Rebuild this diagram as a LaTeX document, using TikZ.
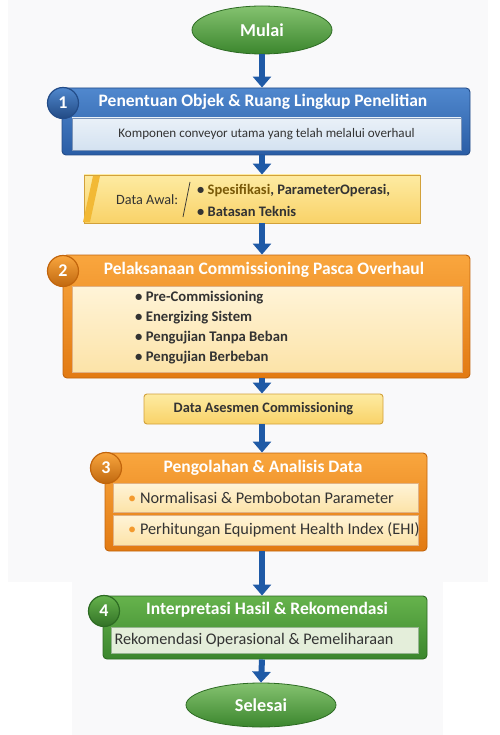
\documentclass[tikz,border=0pt]{standalone}
\usepackage{fontspec}
\setmainfont{Carlito}
\usetikzlibrary{positioning,shapes.geometric,arrows.meta}

\definecolor{bgtint}{HTML}{F9F9FA}
\definecolor{flowblue}{HTML}{1F5AA6}
\definecolor{bluetop}{HTML}{5088CE}
\definecolor{bluebot}{HTML}{2A5DA5}
\definecolor{blueline}{HTML}{234C88}
\definecolor{bluein}{HTML}{D4E2F1}
\definecolor{orgtop}{HTML}{F9A63E}
\definecolor{orgbot}{HTML}{E27A12}
\definecolor{orgline}{HTML}{C2650C}
\definecolor{creamtop}{HTML}{FFF4D8}
\definecolor{creambot}{HTML}{FCE3A8}
\definecolor{yeltop}{HTML}{FDEBA2}
\definecolor{yelbot}{HTML}{F9D268}
\definecolor{yelline}{HTML}{D2A13A}
\definecolor{yelside}{HTML}{F2B935}
\definecolor{grntop}{HTML}{66B34C}
\definecolor{grnbot}{HTML}{3B862D}
\definecolor{grnline}{HTML}{2D6B23}
\definecolor{grnin}{HTML}{E4EEDA}
\definecolor{txtgray}{HTML}{333333}
\definecolor{specclr}{HTML}{7A5A08}
\definecolor{dotorange}{HTML}{F39A2E}

\begin{document}
\begin{tikzpicture}[x=1pt,y=-1pt,
    flow/.style={line width=6pt,draw=flowblue,-{Triangle[width=18pt,length=11pt]}},
    terminal/.style={ellipse,draw=grnline,line width=0.8pt,top color=grntop!80!white,bottom color=grnbot,
        inner sep=0pt,font=\fontsize{18.2}{20}\selectfont\bfseries,text=white},
    stage/.style={rectangle,rounded corners=4pt,line width=0.9pt,inner sep=0pt},
    inbox/.style={rectangle,inner sep=0pt,line width=0.5pt},
    badge/.style={circle,minimum size=31pt,inner sep=0pt,line width=1.2pt,
        font=\fontsize{18}{20}\selectfont\bfseries,text=white},
    title/.style={font=\fontsize{17.5}{20}\selectfont\bfseries,text=white},
    itemtxt/.style={font=\fontsize{14.7}{20}\selectfont\bfseries,text=txtgray,align=left,inner sep=0pt}]

    %% background
    \fill[white] (0,0) rectangle (499,735);
    \fill[bgtint] (8,0) rectangle (488,582);
    \fill[bgtint] (72,582) rectangle (443,735);
    \useasboundingbox (0,0) rectangle (499,735);

    %% start
    \node[terminal,minimum width=140pt,minimum height=48pt] (mulai) at (262,30) {Mulai};

    %% stage 1
    \node[stage,draw=blueline,top color=bluetop,bottom color=bluebot,minimum width=408pt,minimum height=67pt] (box1) at (266,121.5) {};
    \node[title] (title1) at (263,102) {Penentuan Objek \& Ruang Lingkup Penelitian};
    \node[inbox,draw=blueline!60,top color=bluein!50!white,bottom color=bluein,minimum width=389pt,minimum height=32pt,
        font=\fontsize{13.1}{15}\selectfont,text=txtgray] (in1) at (266.5,134) {Komponen conveyor utama yang telah melalui overhaul};
    \node[badge,draw=blueline,top color=bluetop,bottom color=bluebot!80!black] (badge1) at (63,103) {1};

    %% initial data
    \node[trapezium,trapezium left angle=78,trapezium right angle=102,trapezium stretches body,
        draw=yelline,line width=0.9pt,top color=yeltop,bottom color=yelbot,
        minimum width=336pt,minimum height=48pt,inner sep=0pt] (awal) at (252,199) {};
    \fill[yelside] (83,222) -- (93,176) -- (100,176) -- (90,222) -- cycle;
    \node[font=\fontsize{14.2}{16}\selectfont,text=txtgray,anchor=west,inner sep=0pt] (awallbl) at (116,200) {Data Awal:};
    \coordinate (slashtop) at (190,182);
    \coordinate (slashbot) at (183,217);
    \draw[txtgray,line width=0.7pt] (slashtop) -- (slashbot);
    \node[itemtxt,font=\fontsize{14.5}{22}\selectfont\bfseries,anchor=west] (awalitems) at (197,200)
        {• \textcolor{specclr}{Spesifikasi}, ParameterOperasi,\\ • Batasan Teknis};

    %% stage 2
    \node[stage,draw=orgline,top color=orgtop,bottom color=orgbot,minimum width=407pt,minimum height=123pt] (box2) at (266.5,316.5) {};
    \node[title] (title2) at (264,270) {Pelaksanaan Commissioning Pasca Overhaul};
    \node[inbox,draw=orgline!50,top color=creamtop,bottom color=creambot,minimum width=390pt,minimum height=86pt] (in2) at (267,329) {};
    \node[badge,draw=orgline,top color=orgtop,bottom color=orgbot!85!black] (badge2) at (63,271) {2};
    \node[itemtxt,anchor=west] (items2) at (135,328)
        {• Pre-Commissioning\\ • Energizing Sistem\\ • Pengujian Tanpa Beban\\ • Pengujian Berbeban};

    %% assessment data
    \node[rectangle,rounded corners=3pt,draw=yelline,line width=0.9pt,top color=yeltop,bottom color=yelbot,
        minimum width=239pt,minimum height=30pt,inner sep=0pt,
        font=\fontsize{14.4}{16}\selectfont\bfseries,text=txtgray] (asesmen) at (263.5,409) {Data Asesmen Commissioning};

    %% stage 3
    \node[stage,draw=orgline,top color=orgtop,bottom color=orgbot,minimum width=322pt,minimum height=98pt] (box3) at (266,502) {};
    \node[title] (title3) at (263,468) {Pengolahan \& Analisis Data};
    \node[inbox,draw=orgline!50,top color=creamtop,bottom color=creambot,minimum width=305pt,minimum height=29pt] (in3a) at (265.5,497.5) {};
    \node[inbox,draw=orgline!50,top color=creamtop,bottom color=creambot,minimum width=305pt,minimum height=30pt] (in3b) at (265.5,530) {};
    \node[badge,draw=orgline,top color=orgtop,bottom color=orgbot!85!black] (badge3) at (106,468) {3};
    \node[itemtxt,font=\fontsize{16.3}{18}\selectfont,anchor=west] (item3a) at (128,498)
        {\textcolor{dotorange}{•} Normalisasi \& Pembobotan Parameter};
    \node[itemtxt,font=\fontsize{16.3}{18}\selectfont,anchor=west] (item3b) at (128,530)
        {\textcolor{dotorange}{•} Perhitungan Equipment Health Index (EHI)};

    %% stage 4
    \node[stage,draw=grnline,top color=grntop,bottom color=grnbot,minimum width=324pt,minimum height=63pt] (box4) at (265,627.5) {};
    \node[title] (title4) at (267,610) {Interpretasi Hasil \& Rekomendasi};
    \node[inbox,draw=grnline!50,fill=grnin,minimum width=307pt,minimum height=26pt] (in4) at (264.5,640) {};
    \node[font=\fontsize{16.2}{18}\selectfont,text=txtgray] (in4txt) at (254,640) {Rekomendasi Operasional \& Pemeliharaan};
    \node[badge,draw=grnline,top color=grntop,bottom color=grnbot!85!black] (badge4) at (104,611) {4};

    %% end
    \node[terminal,minimum width=150pt,minimum height=44pt] (selesai) at (261,705) {Selesai};

    %% arrows between the steps
    \draw[flow] (mulai.south) -- (mulai.south |- box1.north);
    \draw[flow] (mulai.south |- box1.south) -- (mulai.south |- awal.north);
    \draw[flow] (mulai.south |- awal.south) -- (mulai.south |- box2.north);
    \draw[flow] (mulai.south |- box2.south) -- (mulai.south |- asesmen.north);
    \draw[flow] (mulai.south |- asesmen.south) -- (mulai.south |- box3.north);
    \draw[flow] (mulai.south |- box3.south) -- (mulai.south |- box4.north);
    \draw[flow] (mulai.south |- box4.south) -- (selesai.north);
\end{tikzpicture}
\end{document}
